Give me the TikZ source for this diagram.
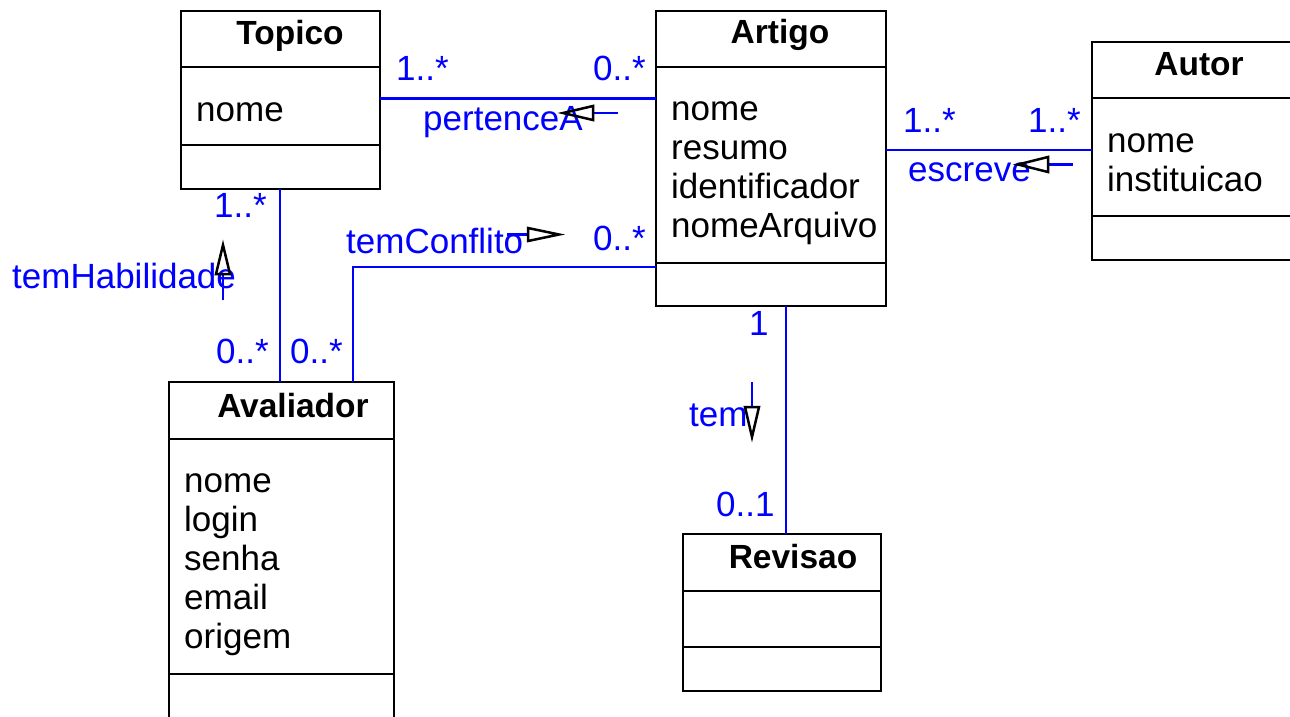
\documentclass[tikz,border=0pt]{standalone}
\usepackage{fontspec}
\setmainfont{Liberation Sans}
\begin{document}
\begin{tikzpicture}[x=1pt,y=-1pt,
  cls/.style={draw=black, line width=2.3pt, inner sep=0pt, outer sep=0pt, anchor=north west},
  ttl/.style={font=\fontsize{33.5}{39}\selectfont\bfseries, inner sep=0pt, anchor=base},
  attr/.style={font=\fontsize{35}{39}\selectfont, inner sep=0pt, anchor=base west},
  lbl/.style={font=\fontsize{35}{39}\selectfont, text=blue, inner sep=0pt, anchor=base west},
  assoc/.style={draw=blue, line width=2.2pt},
  sepline/.style={draw=black, line width=2.3pt},
  dirline/.style={draw=blue, line width=2.2pt},
  dirhead/.style={draw=black, line width=2.5pt, line join=miter}]
\useasboundingbox (0,0) rectangle (1290,716);
\clip (0,0) rectangle (1290,716);

% ---------- classes ----------
\node[cls, minimum width=199pt, minimum height=178pt] (topico) at (181,11) {};
\node[cls, minimum width=230pt, minimum height=295pt] (artigo) at (656,11) {};
\node[cls, minimum width=199pt, minimum height=218pt] (autor) at (1092,42) {};
\node[cls, minimum width=225pt, minimum height=360pt] (avaliador) at (169,382) {};
\node[cls, minimum width=198pt, minimum height=157pt] (revisao) at (683,534) {};

% compartments
\draw[sepline] (topico.west |- 0,67) -- (topico.east |- 0,67);
\draw[sepline] (topico.west |- 0,145) -- (topico.east |- 0,145);
\draw[sepline] (artigo.west |- 0,67) -- (artigo.east |- 0,67);
\draw[sepline] (artigo.west |- 0,263) -- (artigo.east |- 0,263);
\draw[sepline] (autor.west |- 0,98) -- (autor.east |- 0,98);
\draw[sepline] (autor.west |- 0,216) -- (autor.east |- 0,216);
\draw[sepline] (avaliador.west |- 0,439) -- (avaliador.east |- 0,439);
\draw[sepline] (avaliador.west |- 0,674) -- (avaliador.east |- 0,674);
\draw[sepline] (revisao.west |- 0,591) -- (revisao.east |- 0,591);
\draw[sepline] (revisao.west |- 0,647) -- (revisao.east |- 0,647);

% titles
\node[ttl] (tTopico) at (290,44) {Topico};
\node[ttl] (tArtigo) at (780,43) {Artigo};
\node[ttl] (tAutor) at (1199,75) {Autor};
\node[ttl] (tAvaliador) at (293,417) {Avaliador};
\node[ttl] (tRevisao) at (793,568) {Revisao};

% attributes
\node[attr] (aTop1) at (196,121) {nome};
\node[attr] (aArt1) at (671,120) {nome};
\node[attr] (aArt2) at (671,159) {resumo};
\node[attr] (aArt3) at (671,198) {identificador};
\node[attr] (aArt4) at (671,237) {nomeArquivo};
\node[attr] (aAut1) at (1107,152) {nome};
\node[attr] (aAut2) at (1107,191) {instituicao};
\node[attr] (aAva1) at (184,492) {nome};
\node[attr] (aAva2) at (184,531) {login};
\node[attr] (aAva3) at (184,570) {senha};
\node[attr] (aAva4) at (184,609) {email};
\node[attr] (aAva5) at (184,648) {origem};

% ---------- associations ----------
\draw[assoc] (topico.east |- 0,98.5) -- (artigo.west |- 0,98.5);
\draw[assoc] (artigo.east |- 0,150) -- (autor.west |- 0,150);
\draw[assoc] (topico.south -| 280,0) -- (avaliador.north -| 280,0);
\draw[assoc] (avaliador.north -| 353,0) |- (artigo.west |- 0,267);
\draw[assoc] (artigo.south -| 786,0) -- (revisao.north -| 786,0);

% labels
\node[lbl] (m1) at (396,80) {1..*};
\node[lbl] (m2) at (593,80) {0..*};
\node[lbl] (nPert) at (423,130) {pertenceA};
\node[lbl] (m3) at (903,132) {1..*};
\node[lbl] (m4) at (1028,132) {1..*};
\node[lbl] (nEscr) at (908,181) {escreve};
\node[lbl] (m5) at (214,217) {1..*};
\node[lbl] (m6) at (216,363) {0..*};
\node[lbl] (m7) at (290,363) {0..*};
\node[lbl] (nHab) at (12,288) {temHabilidade};
\node[lbl] (nConf) at (346,253) {temConflito};
\node[lbl] (m8) at (593,250) {0..*};
\node[lbl] (m9) at (749,335) {1};
\node[lbl] (nTem) at (689,426) {tem};
\node[lbl] (m10) at (716,516) {0..1};

% direction markers
\draw[dirline] (592,113) -- (618,113);
\draw[dirhead] (563,113) -- (593,106) -- (593,120) -- cycle;
\draw[dirline] (1048,164.5) -- (1073,164.5);
\draw[dirhead] (1018,164.5) -- (1048,157) -- (1048,172) -- cycle;
\draw[dirline] (223,274) -- (223,300);
\draw[dirhead] (223,245) -- (216,274) -- (230,274) -- cycle;
\draw[dirline] (752,382) -- (752,407);
\draw[dirhead] (745,407) -- (759,407) -- (752,437) -- cycle;
\draw[dirline] (507,234.5) -- (528,234.5);
\draw[dirhead] (528,228) -- (528,241) -- (559,234.5) -- cycle;
\end{tikzpicture}
\end{document}
